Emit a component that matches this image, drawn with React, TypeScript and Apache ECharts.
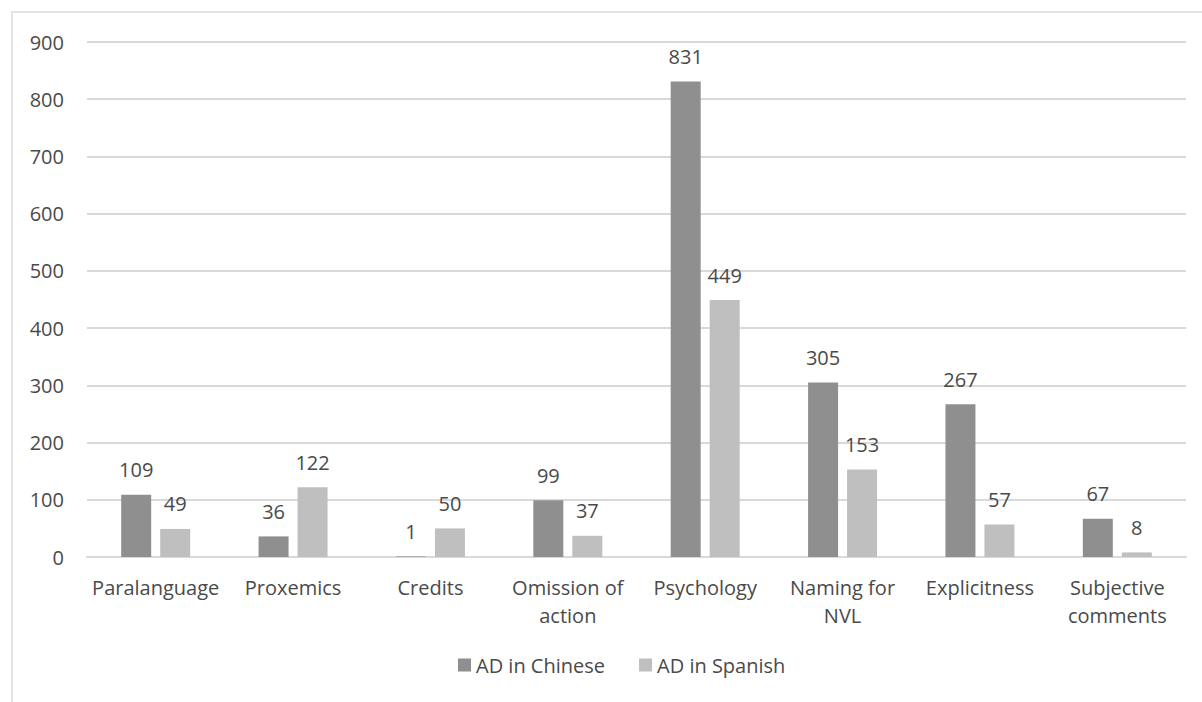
import React, { useEffect, useRef } from "react";
import * as echarts from "echarts";

const categories = [
  "Paralanguage",
  "Proxemics",
  "Credits",
  "Omission of\naction",
  "Psychology",
  "Naming for\nNVL",
  "Explicitness",
  "Subjective\ncomments",
];
const chinese = [109, 36, 1, 99, 831, 305, 267, 67];
const spanish = [49, 122, 50, 37, 449, 153, 57, 8];
const seriesNames = ["AD in Chinese", "AD in Spanish"];

const FONT = "'Open Sans', 'Noto Sans', sans-serif";
const TEXT = "#4a4a4a";
const FS = 20;

export default function App() {
  const ref = useRef<HTMLDivElement>(null);
  useEffect(() => {
    if (!ref.current) return;
    const chart = echarts.init(ref.current, undefined, { renderer: "svg" });
    const label = {
      show: true,
      position: "top" as const,
      distance: 15,
      color: TEXT,
      fontSize: FS,
      fontFamily: FONT,
    };
    chart.setOption({
      animation: false,
      backgroundColor: "#ffffff",
      textStyle: { fontFamily: FONT },
      graphic: [
        {
          type: "rect",
          shape: { x: 12, y: 12, width: 1210, height: 720 },
          style: { fill: "none", stroke: "#e3e3e3", lineWidth: 2 },
          silent: true,
        },
      ],
      grid: { left: 87, right: 16, top: 42, bottom: 145, containLabel: false },
      legend: {
        data: seriesNames,
        bottom: 22,
        left: 453,
        itemWidth: 13,
        itemHeight: 13,
        itemGap: 34,
        icon: "rect",
        textStyle: { color: TEXT, fontSize: FS, fontFamily: FONT },
      },
      xAxis: {
        type: "category",
        data: categories,
        axisLine: { show: true, lineStyle: { color: "#d9d9d9", width: 2 } },
        axisTick: { show: false },
        axisLabel: {
          color: TEXT,
          fontSize: FS,
          fontFamily: FONT,
          margin: 16,
          lineHeight: 28,
          interval: 0,
        },
      },
      yAxis: {
        type: "value",
        min: 0,
        max: 900,
        interval: 100,
        axisLine: { show: false },
        axisTick: { show: false },
        splitLine: { lineStyle: { color: "#d9d9d9", width: 2 } },
        axisLabel: { color: TEXT, fontSize: FS, fontFamily: FONT, margin: 23 },
      },
      series: [
        {
          name: seriesNames[0],
          type: "bar",
          data: chinese,
          barWidth: 30,
          barGap: "30%",
          itemStyle: { color: "#8f8f8f" },
          label,
        },
        {
          name: seriesNames[1],
          type: "bar",
          data: spanish,
          barWidth: 30,
          itemStyle: { color: "#bfbfbf" },
          label,
        },
      ],
    });
    return () => chart.dispose();
  }, []);
  return (
    <div
      ref={ref}
      style={{ position: "fixed", left: 0, top: 0, width: 1202, height: 702 }}
    />
  );
}
